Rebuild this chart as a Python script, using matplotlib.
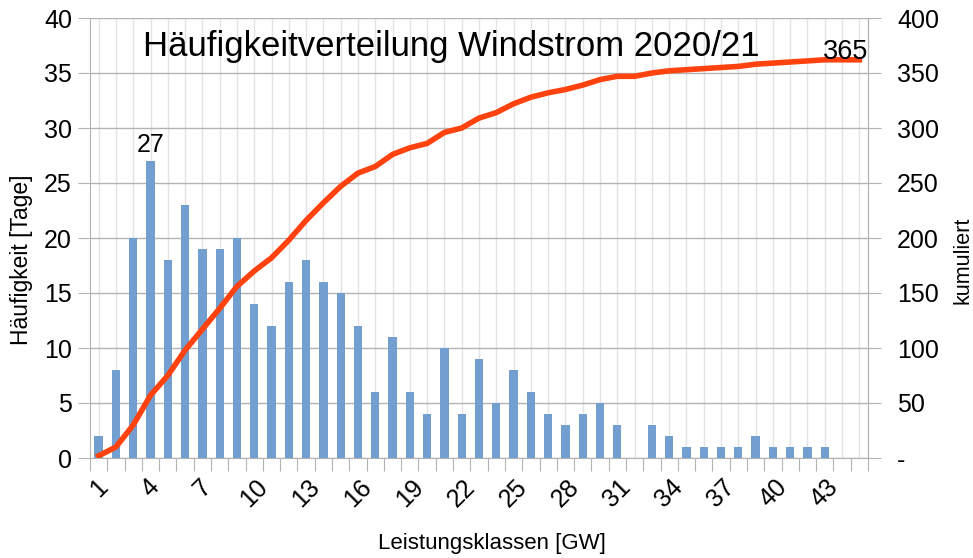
import matplotlib
import matplotlib.pyplot as plt
import numpy as np
from matplotlib.ticker import FixedLocator, FixedFormatter, FuncFormatter

matplotlib.rcParams.update({"font.family": ["Liberation Sans", "DejaVu Sans"], "font.size": 18})

BAR_BLUE = "#729fcf"
LINE_RED = "#ff420e"
GRID_GRAY = "#b3b3b3"

# Leistungsklassen 1..45 GW, Anzahl Tage pro Klasse
klassen = list(range(1, 46))
tage = [2, 8, 20, 27, 18, 23, 19, 19, 20, 14,
        12, 16, 18, 16, 15, 12, 6, 11, 6, 4,
        10, 4, 9, 5, 8, 6, 4, 3, 4, 5,
        3, 0, 3, 2, 1, 1, 1, 1, 2, 1,
        1, 1, 1, 0, 0]
max_label = "27"
total_label = "365"

kumuliert = np.cumsum(tage)

fig = plt.figure(figsize=(9.73, 5.58), dpi=100)
ax = fig.add_axes([90 / 973, 100 / 558, 778 / 973, 440 / 558])

ax.bar(klassen, tage, width=0.48, color=BAR_BLUE, zorder=3)
ax.set_xlim(0.5, 45.5)
ax.set_ylim(0, 40)
ax.set_yticks(range(0, 41, 5))

# ticks at category boundaries, labels (every 3rd) at centres
ax.xaxis.set_major_locator(FixedLocator(np.arange(0.5, 46, 1)))
ax.xaxis.set_major_formatter(FixedFormatter([""] * 46))
ax.xaxis.set_minor_locator(FixedLocator(klassen))
ax.xaxis.set_minor_formatter(FixedFormatter([str(k) if (k - 1) % 3 == 0 else "" for k in klassen]))
ax.tick_params(axis="x", which="major", length=9, color=GRID_GRAY)
ax.tick_params(axis="x", which="minor", length=0, pad=12)
for lbl in ax.xaxis.get_minorticklabels():
    lbl.set_rotation(45)
    lbl.set_ha("center")
    lbl.set_va("top")

ax.tick_params(axis="y", length=9, color=GRID_GRAY, pad=4)
ax.grid(axis="y", color=GRID_GRAY, linewidth=1, zorder=0)
ax.grid(axis="x", which="minor", color="#e3e3e3", linewidth=1, zorder=0)
ax.set_axisbelow(True)

for side in ["left", "bottom", "right"]:
    ax.spines[side].set_color(GRID_GRAY)
ax.spines["top"].set_visible(False)

ax.set_ylabel("Häufigkeit [Tage]", fontsize=16.5)
ax.yaxis.set_label_coords(-0.073, 0.45)
ax.set_xlabel("Leistungsklassen [GW]", fontsize=16)
ax.xaxis.set_label_coords(0.517, -0.17)

ax.text(klassen[tage.index(27)], 27.4, max_label, ha="center", va="bottom", fontsize=18)
ax.text(21.4, 37.4, "Häufigkeitverteilung Windstrom 2020/21", ha="center", va="center", fontsize=25)

ax2 = ax.twinx()
ax2.plot(klassen, kumuliert, color=LINE_RED, linewidth=4, solid_joinstyle="round")
ax2.set_ylim(0, 400)
ax2.set_yticks(range(0, 401, 50))
ax2.yaxis.set_major_formatter(FuncFormatter(lambda v, p: "-" if v == 0 else f"{v:.0f}"))
ax2.tick_params(axis="y", length=9, color=GRID_GRAY, pad=12)
ax2.spines["right"].set_color(GRID_GRAY)
ax2.spines["top"].set_visible(False)
ax2.spines["left"].set_visible(False)
ax2.spines["bottom"].set_visible(False)
ax2.set_ylabel("kumuliert", fontsize=15.5)
ax2.yaxis.set_label_coords(1.109, 0.45)
ax2.text(44.2, kumuliert[-1] - 5, total_label, ha="center", va="bottom", fontsize=19.5)

fig.savefig("out.png", dpi=100)
